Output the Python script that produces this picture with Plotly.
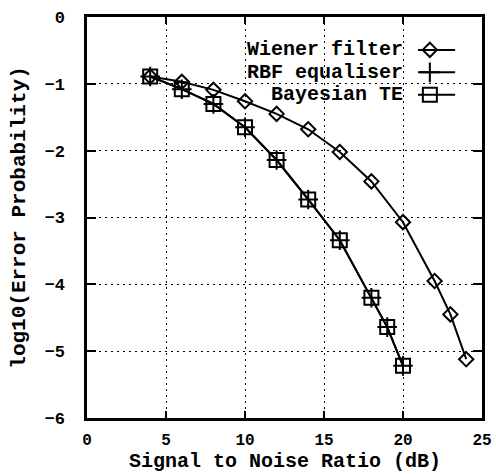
import plotly.graph_objects as go

# ---- data ----
snr_wiener = [4, 6, 8, 10, 12, 14, 16, 18, 20, 22, 23, 24]
wiener = [-0.89, -0.97, -1.09, -1.26, -1.45, -1.68, -2.02, -2.46, -3.07, -3.95, -4.45, -5.12]
snr_bayes = [4, 6, 8, 10, 12, 14, 16, 18, 19, 20]
rbf = [-0.89, -1.08, -1.30, -1.65, -2.14, -2.73, -3.34, -4.20, -4.64, -5.22]
bayes = [-0.89, -1.08, -1.30, -1.65, -2.14, -2.73, -3.34, -4.20, -4.64, -5.22]
names = ["Wiener filter", "RBF equaliser", "Bayesian TE"]
x_ticks = [0, 5, 10, 15, 20, 25]
y_ticks = [0, -1, -2, -3, -4, -5, -6]
x_title = "Signal to Noise Ratio (dB)"
y_title = "log10(Error Probability)"

FONT = "Liberation Mono"
BLK = "black"

fig = go.Figure()
styles = [
    dict(symbol="diamond-open", size=11, color=BLK, line=dict(width=2, color=BLK)),
    dict(symbol="cross-thin-open", size=14, color=BLK, line=dict(width=2, color=BLK)),
    dict(symbol="square-open", size=14, color=BLK, line=dict(width=2, color=BLK)),
]
series = [(snr_wiener, wiener), (snr_bayes, rbf), (snr_bayes, bayes)]
for (xs, ys), st, nm in zip(series, styles, names):
    fig.add_trace(go.Scatter(x=xs, y=ys, mode="lines+markers", name=nm,
                             line=dict(color=BLK, width=2), marker=st,
                             showlegend=False))

# ---- custom gnuplot-style key (text right, sample to the right) ----
key_text_x = 0.803
key_line = (0.838, 0.932)
key_mark_x = 0.868
key_rows = [0.918, 0.862, 0.806]
for nm, st, yy in zip(names, styles, key_rows):
    fig.add_annotation(x=key_text_x, y=yy, xref="paper", yref="paper",
                       text=nm, showarrow=False, xanchor="right", yanchor="middle",
                       borderpad=0,
                       font=dict(family=FONT, size=20, color=BLK, weight="bold"))
    fig.add_trace(go.Scatter(x=list(key_line), y=[yy, yy], mode="lines",
                             line=dict(color=BLK, width=2), xaxis="x2", yaxis="y2",
                             showlegend=False, hoverinfo="skip"))
    fig.add_trace(go.Scatter(x=[key_mark_x], y=[yy], mode="markers", marker=st,
                             xaxis="x2", yaxis="y2", showlegend=False, hoverinfo="skip"))

# x-axis title placed as an annotation below the tick labels
fig.add_annotation(x=0.5, y=-0.1397, xref="paper", yref="paper", text=x_title,
                   showarrow=False, xanchor="center", yanchor="bottom", borderpad=0,
                   font=dict(family=FONT, size=20, color=BLK, weight="bold"))

grid = dict(showgrid=True, gridcolor=BLK, gridwidth=1, griddash="2px,4px")
fig.update_layout(
    width=496, height=474,
    margin=dict(l=87, r=14, t=17, b=56, autoexpand=False),
    paper_bgcolor="white", plot_bgcolor="white",
    font=dict(family=FONT, color=BLK),
    xaxis=dict(range=[0, 25], tickvals=x_ticks, ticks="inside", ticklen=7, tickwidth=2,
               showline=True, linewidth=2.5, linecolor=BLK, mirror="ticks",
               zeroline=False, tickcolor=BLK, ticklabelstandoff=5,
               tickfont=dict(family=FONT, size=16, weight="bold"),
               automargin=False, **grid),
    yaxis=dict(range=[-6, 0], tickvals=y_ticks, ticks="inside", ticklen=9, tickwidth=2,
               showline=True, linewidth=2.5, linecolor=BLK, mirror="ticks",
               zeroline=False, tickcolor=BLK, ticklabelstandoff=16,
               tickfont=dict(family=FONT, size=17, weight="bold"),
               title=dict(text=y_title, standoff=14,
                          font=dict(family=FONT, size=21, weight="bold")),
               automargin=False, **grid),
    xaxis2=dict(range=[0, 1], overlaying="x", visible=False, fixedrange=True),
    yaxis2=dict(range=[0, 1], overlaying="y", visible=False, fixedrange=True),
)

fig.write_html("out.html")
